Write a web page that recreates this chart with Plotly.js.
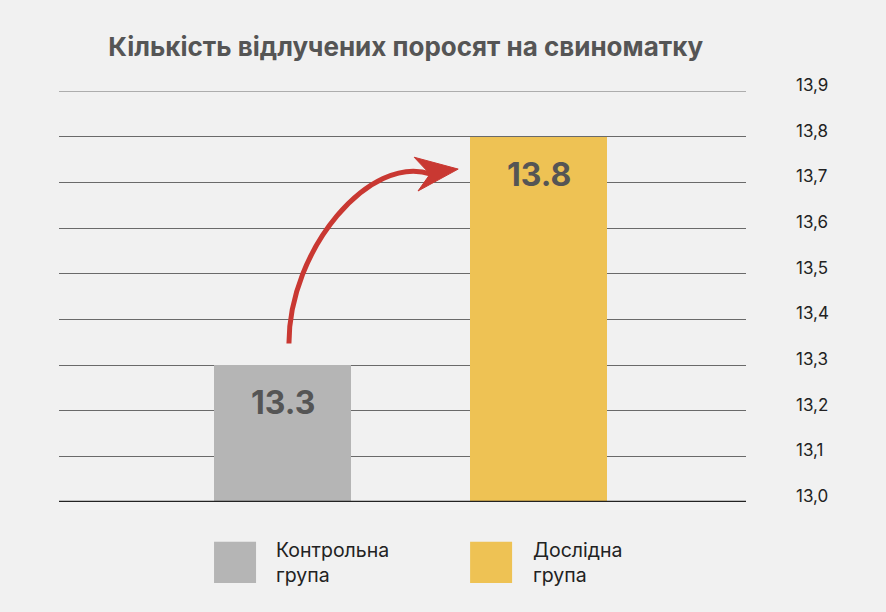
<!DOCTYPE html>
<html>
<head>
<meta charset="utf-8">
<script src="https://cdn.plot.ly/plotly-3.0.1.min.js"></script>
<style>
  html, body { margin: 0; padding: 0; background: #f1f1f1; }
  #chart { width: 886px; height: 612px; }
</style>
</head>
<body>
<div id="chart"></div>
<script>
  // Values.
  const groups = ["Контрольна<br>група", "Дослідна<br>група"];
  const positions = [0, 1];
  const values = [13.3, 13.8];
  const labels = ["13.3", "13.8"];
  const colors = ["#b5b5b5", "#eec254"];
  const tickValues = [13.0, 13.1, 13.2, 13.3, 13.4, 13.5, 13.6, 13.7, 13.8, 13.9];

  const FONT = "Inter, 'Open Sans', sans-serif";
  const RED = "#c93832";
  const GRID = "#6a6a6a";
  const BAR_WIDTH = 0.535;

  // Bars grow from zero; the axis range crops them at 13.0 like the original.
  const trace = {
    type: "bar",
    x: positions,
    y: values,
    width: BAR_WIDTH,
    marker: { color: colors, line: { width: 0 } },
    hoverinfo: "skip",
    showlegend: false,
  };

  // Value labels sit just under the top of each bar.
  const valueNotes = positions.map(function (pos, i) {
    return {
      x: pos, y: values[i], xref: "x", yref: "y",
      text: "<b>" + labels[i] + "</b>",
      showarrow: false, yanchor: "top", yshift: -16,
      font: { family: FONT, size: 32, color: "#555555" },
    };
  });

  // Legend drawn by hand: big swatches aligned with the bar left edges.
  const legendShapes = [];
  const legendNotes = [];
  positions.forEach(function (pos, i) {
    const left = pos - BAR_WIDTH / 2;
    legendShapes.push({
      type: "rect", xref: "x", yref: "paper",
      x0: left, x1: left + 0.164, y0: -0.097, y1: -0.197,
      fillcolor: colors[i], line: { width: 0 }, layer: "above",
    });
    legendNotes.push({
      x: left + 0.236, y: -0.147, xref: "x", yref: "paper",
      text: groups[i], align: "left", showarrow: false,
      xanchor: "left", yanchor: "middle",
      font: { family: FONT, size: 19.5, color: "#222222" },
    });
  });

  // Curved arrow from the control bar to the experimental bar.
  const arrowShapes = [
    {
      type: "path", xref: "x", yref: "y", layer: "above",
      path: "M 0.025,13.347 C 0.025,13.553 0.342,13.764 0.58,13.718",
      line: { color: RED, width: 5 },
    },
    {
      type: "path", xref: "x", yref: "y", layer: "above",
      path: "M 0.686,13.729 L 0.514,13.755 L 0.576,13.718 L 0.529,13.681 Z",
      fillcolor: RED, line: { color: RED, width: 1 },
    },
  ];

  // Plotly skips the gridline on the top edge of the range, so draw that one.
  const edgeLines = [
    {
      type: "line", xref: "paper", yref: "y",
      x0: 0, x1: 1, y0: tickValues[tickValues.length - 1], y1: tickValues[tickValues.length - 1],
      line: { color: GRID, width: 1 }, layer: "below",
    },
    {
      type: "line", xref: "paper", yref: "y",
      x0: 0, x1: 1, y0: tickValues[0], y1: tickValues[0],
      line: { color: "#222222", width: 2.5 }, layer: "above",
    },
  ];

  const layout = {
    width: 886,
    height: 612,
    paper_bgcolor: "#f1f1f1",
    plot_bgcolor: "#f1f1f1",
    margin: { l: 59, r: 140, t: 91, b: 110 },
    font: { family: FONT, color: "#222222" },
    title: {
      text: "<b>Кількість відлучених поросят на свиноматку</b>",
      x: 0.458, xanchor: "center", y: 0.923, yanchor: "middle",
      font: { family: FONT, size: 26, color: "#555555" },
    },
    xaxis: {
      range: [-0.873, 1.81],
      showticklabels: false, showgrid: false, zeroline: false,
      fixedrange: true,
    },
    yaxis: {
      side: "right",
      range: [13.0, 13.9],
      tickvals: tickValues,
      tickformat: ".1f",
      ticks: "",
      ticklabelstandoff: 49,
      ticklabelshift: -6, // labels sit a little above their gridlines
      tickfont: { family: FONT, size: 17, color: "#222222" },
      showgrid: true, gridcolor: GRID, gridwidth: 1,
      zeroline: false,
      showline: false,
      fixedrange: true,
    },
    separators: ",.",
    bargap: 0,
    shapes: edgeLines.concat(arrowShapes, legendShapes),
    annotations: valueNotes.concat(legendNotes),
  };

  Plotly.newPlot("chart", [trace], layout, { displayModeBar: false, staticPlot: true });
</script>
</body>
</html>
